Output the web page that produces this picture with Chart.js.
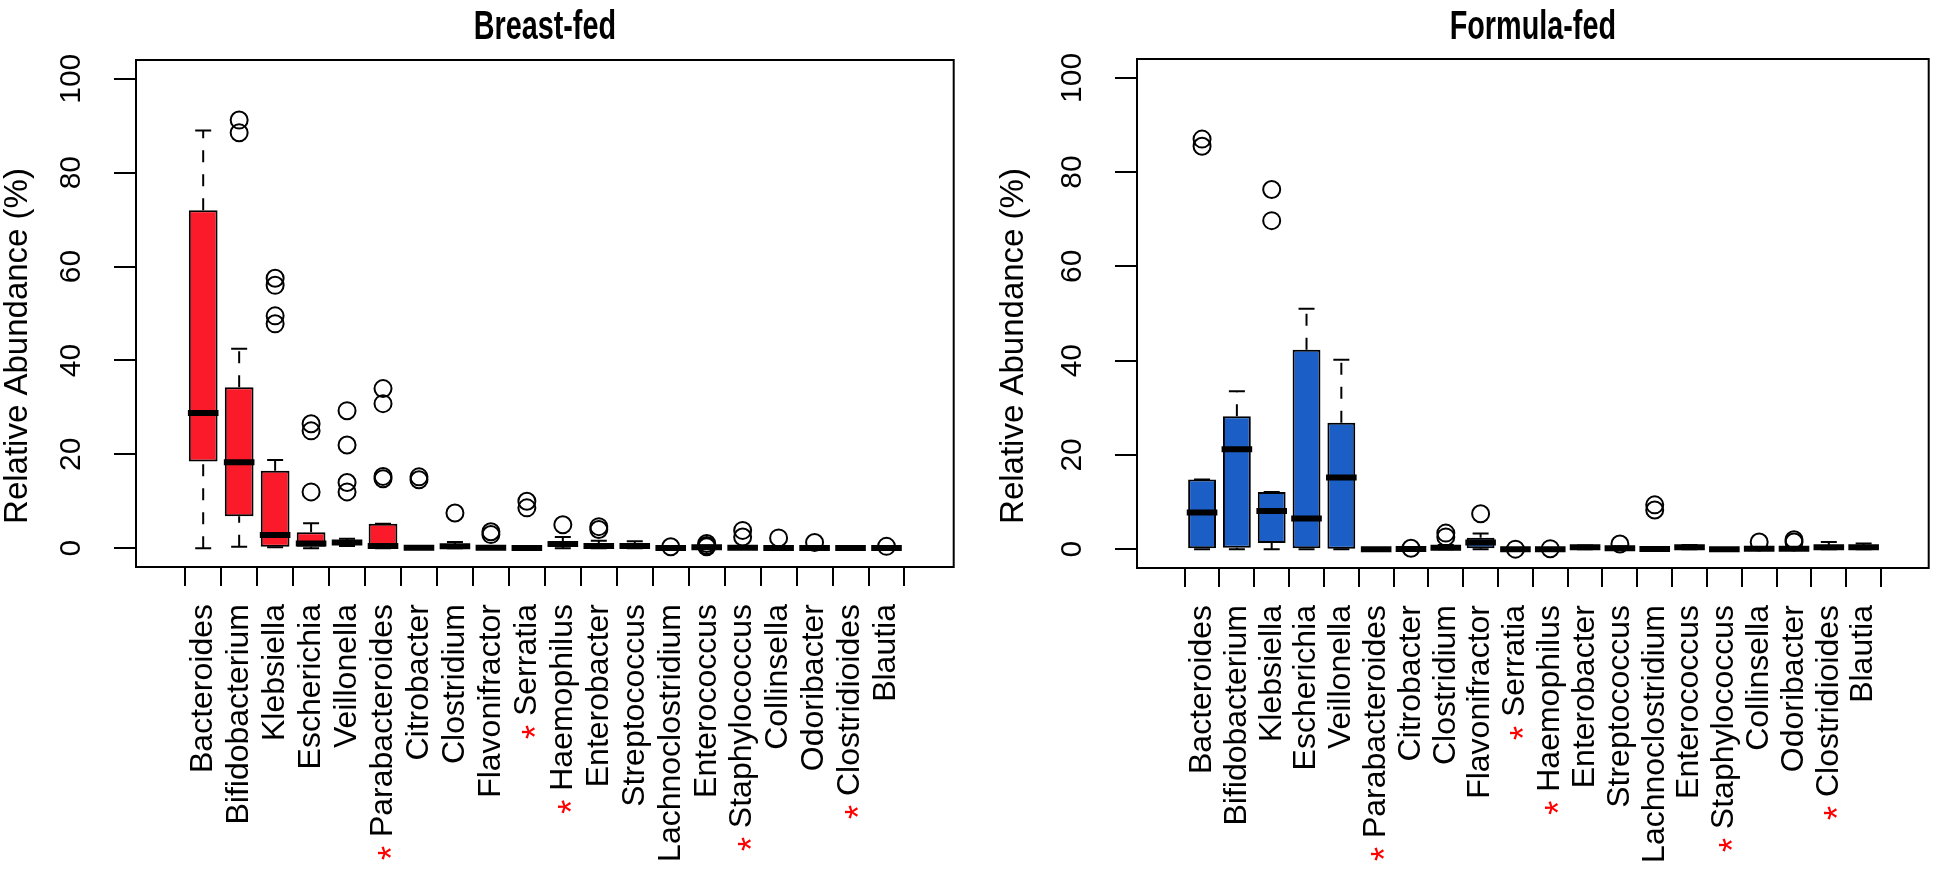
<!DOCTYPE html>
<html>
<head>
<meta charset="utf-8">
<script src="https://cdn.jsdelivr.net/npm/chart.js@4.4.1/dist/chart.umd.min.js"></script>
<style>
  body { margin: 0; background: #fff; }
  .panel { position: absolute; top: 0; width: 975px; height: 873px; }
  #left { left: 0; }
  #right { left: 975px; }
</style>
</head>
<body>
<div class="panel" id="left"><canvas id="breastChart"></canvas></div>
<div class="panel" id="right"><canvas id="formulaChart"></canvas></div>
<script>
// Genera on the x axis (same order in both panels)
const genera = ['Bacteroides', 'Bifidobacterium', 'Klebsiella', 'Escherichia', 'Veillonella',
  'Parabacteroides', 'Citrobacter', 'Clostridium', 'Flavonifractor', 'Serratia',
  'Haemophilus', 'Enterobacter', 'Streptococcus', 'Lachnoclostridium', 'Enterococcus',
  'Staphylococcus', 'Collinsella', 'Odoribacter', 'Clostridioides', 'Blautia'];
// genera marked with a red asterisk
const starred = ['Parabacteroides', 'Serratia', 'Haemophilus', 'Staphylococcus', 'Clostridioides'];
const yTicks = [0, 20, 40, 60, 80, 100];

// Breast-fed box stats (relative abundance %)
const breastLow  = [0, 0.3, 0.2, 0, 0.5, 0, 0, 0, 0, 0, 0, 0, 0, 0, 0, 0, 0, 0, 0, 0];
const breastQ1   = [18.5, 6.8, 0.3, 0.3, 0.8, 0.2, 0, 0.1, 0, 0, 0.3, 0.2, 0.3, 0, 0.05, 0, 0, 0, 0, 0];
const breastMed  = [28.8, 18.3, 2.8, 1.0, 1.2, 0.5, 0.1, 0.4, 0.1, 0.05, 0.9, 0.5, 0.5, 0.05, 0.2, 0.1, 0.05, 0.05, 0.05, 0.05];
const breastQ3   = [72, 34.3, 16.5, 3.4, 1.7, 5.2, 0.2, 0.8, 0.3, 0.1, 1.5, 0.9, 0.9, 0.1, 0.4, 0.2, 0.1, 0.1, 0.1, 0.1];
const breastHigh = [89, 42.5, 18.8, 5.3, 2.0, 5.2, 0.3, 1.3, 0.5, 0.2, 2.4, 1.6, 1.5, 0.2, 0.6, 0.3, 0.2, 0.2, 0.2, 0.2];
const breastOut  = [[], [91.2, 88.5], [57.5, 56, 49.5, 47.8], [26.5, 25, 12], [29.3, 22, 14, 12],
  [34, 30.8, 15.3, 14.8], [15.2, 14.6], [7.5], [3.5, 2.9], [10, 8.6],
  [5], [4.6, 4], [], [0.3], [1, 0.6, 0.3], [3.8, 2.4], [2.2], [1.2], [], [0.4]];

// Formula-fed box stats
const formulaLow  = [0, 0, 0, 0, 0, 0, 0, 0, 0, 0, 0, 0, 0, 0, 0, 0, 0, 0, 0, 0];
const formulaQ1   = [0, 0.3, 1.3, 0, 0.1, 0, 0, 0.1, 0.2, 0, 0, 0.2, 0, 0, 0.2, 0, 0, 0, 0.2, 0.1];
const formulaMed  = [7.8, 21.2, 8.1, 6.5, 15.2, 0, 0.05, 0.3, 1.4, 0, 0, 0.4, 0.2, 0.05, 0.4, 0, 0.1, 0.1, 0.4, 0.4];
const formulaQ3   = [14.8, 28.2, 12.1, 42.3, 26.8, 0, 0.1, 0.6, 2.4, 0, 0, 0.6, 0.4, 0.1, 0.6, 0, 0.2, 0.2, 0.7, 0.7];
const formulaHigh = [14.8, 33.5, 12.1, 51, 40.2, 0, 0.2, 0.9, 3.3, 0, 0, 0.8, 0.6, 0.2, 0.9, 0, 0.3, 0.4, 1.5, 1.2];
const formulaOut  = [[87, 85.5], [], [76.3, 69.7], [], [], [], [0.2], [3.4, 2.6], [7.5], [0],
  [0.1], [], [1.1], [9.4, 8.3], [], [], [1.5], [2, 1.5], [], []];

const FONT = "'Liberation Sans', Arial, sans-serif";
const LABEL_SIZE = 32;
const TICK_LEN_X = 19, TICK_PAD_X = 18;

const framePlugin = {
  id: 'frame',
  afterDraw(chart) {
    const a = chart.chartArea, ctx = chart.ctx;
    ctx.save();
    ctx.strokeStyle = '#000';
    ctx.lineWidth = 2;
    ctx.strokeRect(a.left, a.top, a.right - a.left, a.bottom - a.top);
    ctx.restore();
  }
};

// red asterisk in front of some genus labels
const starPlugin = {
  id: 'stars',
  afterDraw(chart) {
    const ctx = chart.ctx, xs = chart.scales.x;
    ctx.save();
    ctx.font = LABEL_SIZE + 'px ' + FONT;
    const space = ctx.measureText(' ').width;
    genera.forEach((g, i) => {
      if (!starred.includes(g)) return;
      const w = ctx.measureText(g).width;
      const x = xs.getPixelForValue(i + 1);
      const y = chart.chartArea.bottom + TICK_LEN_X + TICK_PAD_X + w + space;
      ctx.save();
      ctx.translate(x, y);
      ctx.rotate(-Math.PI / 2);
      ctx.fillStyle = '#ff0000';
      ctx.font = '36px ' + FONT;
      ctx.textAlign = 'right';
      ctx.textBaseline = 'alphabetic';
      ctx.fillText('*', 0, 0.58 * 36);
      ctx.restore();
    });
    ctx.restore();
  }
};

// panel title (tall, condensed bold, centred over the plot box) and the y axis title
function textPlugin(title, yTitleBaseX) {
  return {
    id: 'panelText',
    afterDraw(chart) {
      const a = chart.chartArea, ctx = chart.ctx;
      ctx.save();
      ctx.fillStyle = '#000';
      ctx.translate((a.left + a.right) / 2, 39);
      ctx.scale(0.72, 1);
      ctx.font = 'bold 40px ' + FONT;
      ctx.textAlign = 'center';
      ctx.textBaseline = 'alphabetic';
      ctx.fillText(title, 0, 0);
      ctx.restore();

      ctx.save();
      ctx.fillStyle = '#000';
      ctx.translate(yTitleBaseX, 346);
      ctx.rotate(-Math.PI / 2);
      ctx.font = '33px ' + FONT;
      ctx.textAlign = 'center';
      ctx.textBaseline = 'alphabetic';
      ctx.fillText('Relative Abundance (%)', 0, 0);
      ctx.restore();
    }
  };
}

function makeChart(canvasId, title, color, low, q1, med, q3, high, outs, yWidth, yTitleX, padRight, padTop, xHeight) {
  const boxes = genera.map((g, i) => ({x: i + 1, y: [q1[i], q3[i]]}));
  const medians = genera.map((g, i) => ({x: i + 1, y: med[i]}));
  const whiskers = [];
  const caps = [];
  genera.forEach((g, i) => {
    whiskers.push({x: i + 1, y: q3[i]}, {x: i + 1, y: high[i]}, {x: i + 1, y: null});
    whiskers.push({x: i + 1, y: low[i]}, {x: i + 1, y: q1[i]}, {x: i + 1, y: null});
    caps.push({x: i + 1, y: high[i]}, {x: i + 1, y: low[i]});
  });
  const outliers = [];
  outs.forEach((list, i) => list.forEach(v => outliers.push({x: i + 1, y: v})));

  return new Chart(document.getElementById(canvasId), {
    type: 'bar',
    data: {
      datasets: [
        {
          type: 'bar', data: boxes, backgroundColor: color, borderColor: '#000', borderWidth: 2,
          borderSkipped: false, barPercentage: 0.8, categoryPercentage: 1, grouped: false, order: 5
        },
        {
          type: 'line', data: whiskers, borderColor: '#000', borderWidth: 2, borderDash: [12, 12],
          pointRadius: 0, spanGaps: false, fill: false, order: 4
        },
        {
          type: 'line', data: caps, showLine: false, pointStyle: 'line', pointRadius: 8,
          pointBorderWidth: 2, pointBorderColor: '#000', order: 3
        },
        {
          type: 'line', data: medians, showLine: false, pointStyle: 'line', pointRadius: 15.3,
          pointBorderWidth: 6, pointBorderColor: '#000', order: 2
        },
        {
          type: 'line', data: outliers, showLine: false, pointStyle: 'circle', pointRadius: 8.5,
          pointBorderWidth: 2, pointBorderColor: '#000', pointBackgroundColor: 'rgba(0,0,0,0)', order: 1
        }
      ]
    },
    options: {
      responsive: false,
      animation: false,
      events: [],
      layout: { padding: { left: 0, right: padRight, top: padTop, bottom: 0 } },
      plugins: {
        legend: { display: false },
        tooltip: { enabled: false },
        title: { display: false }
      },
      scales: {
        x: {
          type: 'linear', min: -0.3, max: 21.3,
          afterBuildTicks: s => { s.ticks = genera.map((g, i) => ({value: i + 1})); },
          afterFit: s => { s.height = xHeight; },
          grid: { drawOnChartArea: false, tickLength: TICK_LEN_X, color: '#000', lineWidth: 2 },
          border: { display: false },
          ticks: {
            autoSkip: false, minRotation: 90, maxRotation: 90, padding: TICK_PAD_X,
            color: '#000', font: { family: FONT, size: LABEL_SIZE },
            callback: (v, i) => genera[i]
          }
        },
        y: {
          type: 'linear', min: -4, max: 104,
          afterBuildTicks: s => { s.ticks = yTicks.map(v => ({value: v})); },
          afterFit: s => { s.width = yWidth; },
          grid: { drawOnChartArea: false, tickLength: 22, color: '#000', lineWidth: 2 },
          border: { display: false },
          ticks: {
            minRotation: 90, maxRotation: 90, crossAlign: 'center', padding: 17,
            color: '#000', font: { family: FONT, size: 30 }
          }
        }
      }
    },
    plugins: [framePlugin, starPlugin, textPlugin(title, yTitleX)]
  });
}

function sizeCanvas(id) {
  const c = document.getElementById(id);
  c.width = 975; c.height = 873;
  c.style.width = '975px'; c.style.height = '873px';
}
sizeCanvas('breastChart');
sizeCanvas('formulaChart');

makeChart('breastChart', 'Breast-fed', '#fb1a2a',
  breastLow, breastQ1, breastMed, breastQ3, breastHigh, breastOut, 136, 27, 15, 60, 306);
makeChart('formulaChart', 'Formula-fed', '#1b5ec6',
  formulaLow, formulaQ1, formulaMed, formulaQ3, formulaHigh, formulaOut, 162, 48, 3, 59, 305);
</script>
</body>
</html>
